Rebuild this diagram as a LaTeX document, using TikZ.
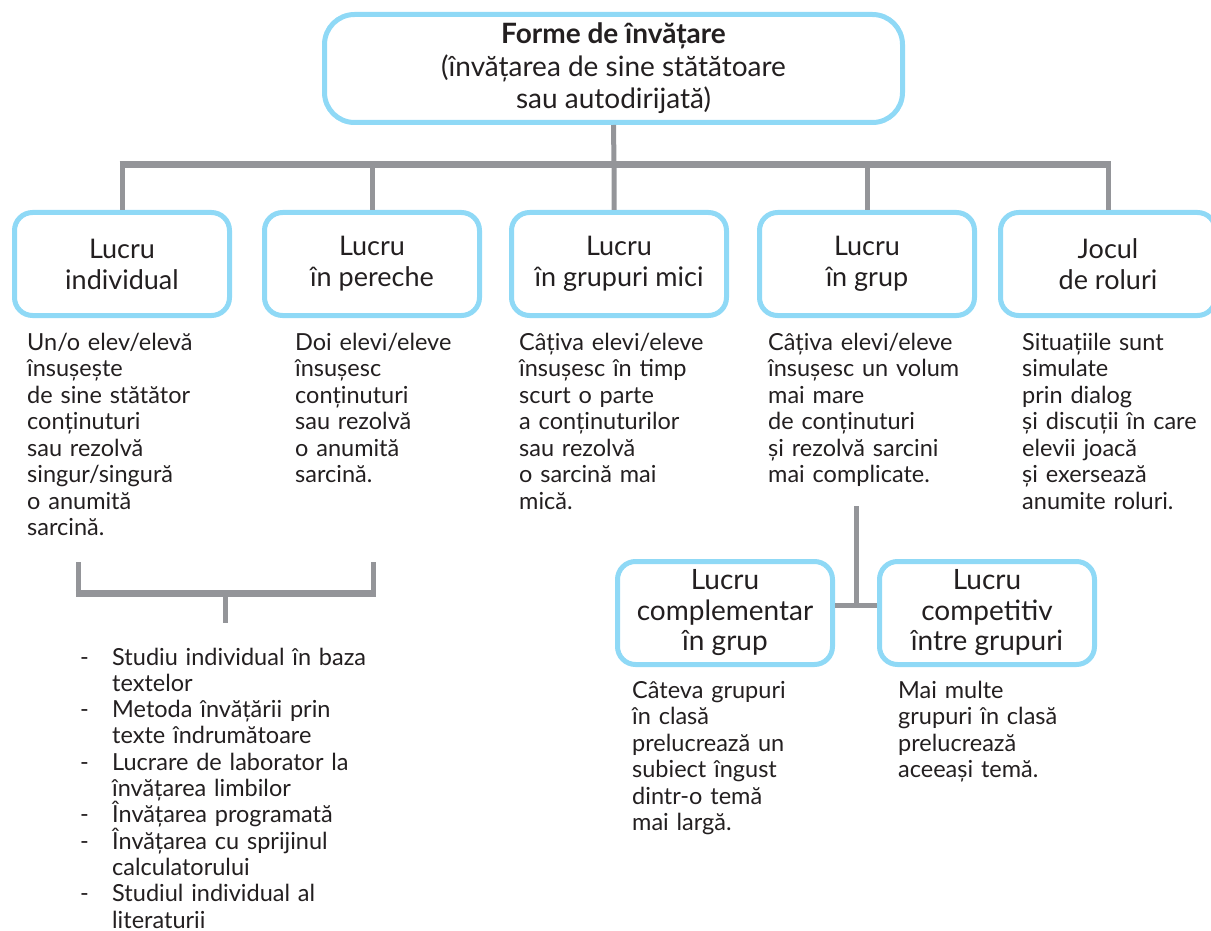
\documentclass[tikz,border=0pt]{standalone}
\usepackage{fontspec}
\setmainfont{Lato}
\definecolor{boxblue}{HTML}{8FD9F6}
\definecolor{linegray}{HTML}{949599}
\definecolor{ink}{HTML}{231F20}
\begin{document}
\begin{tikzpicture}[x=1pt, y=-1pt, line join=round,
  form/.style={draw=boxblue, line width=5pt, rounded corners=18pt, minimum width=215pt,
    minimum height=103pt, align=center, text=ink, inner sep=0pt, font=\fontsize{27}{31}\selectfont},
  desc/.style={anchor=base west, text width=210pt, align=left, inner sep=0pt, text=ink,
    font=\fontsize{23.5}{26.5}\selectfont},
  stem/.style={draw=linegray, line width=5pt},
  bar/.style={draw=linegray, line width=7pt, shorten <=-2.5pt, shorten >=-2.5pt}]
\useasboundingbox (0,0) rectangle (1211,931);

% boxes
\node[form, minimum width=578pt, minimum height=108pt, rounded corners=30pt,
  font=\fontsize{28}{32.5}\selectfont] (b0) at (613.5,68.5)
  {\textbf{Forme de învățare}\\(învățarea de sine stătătoare\\sau autodirijată)};
\node[form] (b1) at (122,264) {Lucru\\individual};
\node[form] (b2) at (372,264) {Lucru\\în pereche};
\node[form] (b3) at (619,264) {Lucru\\în grupuri mici};
\node[form] (b4) at (867,264) {Lucru\\în grup};
\node[form] (b5) at (1108,264) {Jocul\\de roluri};
\node[form, font=\fontsize{28}{30.5}\selectfont] (b6) at (725,613) {Lucru\\complementar\\în grup};
\node[form, font=\fontsize{28}{30.5}\selectfont] (b7) at (987,613) {Lucru\\competitiv\\între grupuri};

% texts under the boxes
\node[desc] (d1) at (27,350) {Un/o elev/elevă\\însușește\\de sine stătător\\conținuturi\\sau rezolvă\\singur/singură\\o anumită\\sarcină.};
\node[desc] (d2) at (295,350) {Doi elevi/eleve\\însușesc\\conținuturi\\sau rezolvă\\o anumită\\sarcină.};
\node[desc] (d3) at (519,350) {Câțiva elevi/eleve\\însușesc în timp\\scurt o parte\\a conținuturilor\\sau rezolvă\\o sarcină mai\\mică.};
\node[desc] (d4) at (768,350) {Câțiva elevi/eleve\\însușesc un volum\\mai mare\\de conținuturi\\și rezolvă sarcini\\mai complicate.};
\node[desc] (d5) at (1022,350) {Situațiile sunt\\simulate\\prin dialog\\și discuții în care\\elevii joacă\\și exersează\\anumite roluri.};
\node[desc] (d6) at (632,698) {Câteva grupuri\\în clasă\\prelucrează un\\subiect îngust\\dintr-o temă\\mai largă.};
\node[desc] (d7) at (898,698) {Mai multe\\grupuri în clasă\\prelucrează\\aceeași temă.};
\node[desc, font=\fontsize{23.5}{26.3}\selectfont] (lst) at (80,665) {\begin{tabular}[t]{@{}p{32pt}@{}l@{}}
  - & Studiu individual în baza\\
    & textelor\\
  - & Metoda învățării prin\\
    & texte îndrumătoare\\
  - & Lucrare de laborator la\\
    & învățarea limbilor\\
  - & \smash{Învățarea programată}\\
  - & \smash{Învățarea cu sprijinul}\\
    & calculatorului\\
  - & Studiul individual al\\
    & literaturii
\end{tabular}};

% connectors
\coordinate (hub) at (614,165);
\draw[stem] (b0.south) -- (hub) -- (b3.north -| hub);
\draw[bar] (b1.north |- hub) -- (b5.north |- hub);
\foreach \b in {b1,b2,b4,b5}
  \draw[stem] (\b.north |- hub) -- (\b.north);

\coordinate (split) at (856,506);
\coordinate (join) at (856,605);
\draw[stem] (split) -- (join);
\draw[stem] (b6.east |- join) -- (b7.west |- join);

\coordinate (k1) at (78,562);
\coordinate (k2) at (373,562);
\coordinate (kmid) at (225,593);
\coordinate (klist) at (225,623);
\draw[stem] (k1) -- (k1 |- kmid);
\draw[stem] (k2) -- (k2 |- kmid);
\draw[bar] (k1 |- kmid) -- (k2 |- kmid);
\draw[stem] (kmid) -- (klist);
\end{tikzpicture}
\end{document}
